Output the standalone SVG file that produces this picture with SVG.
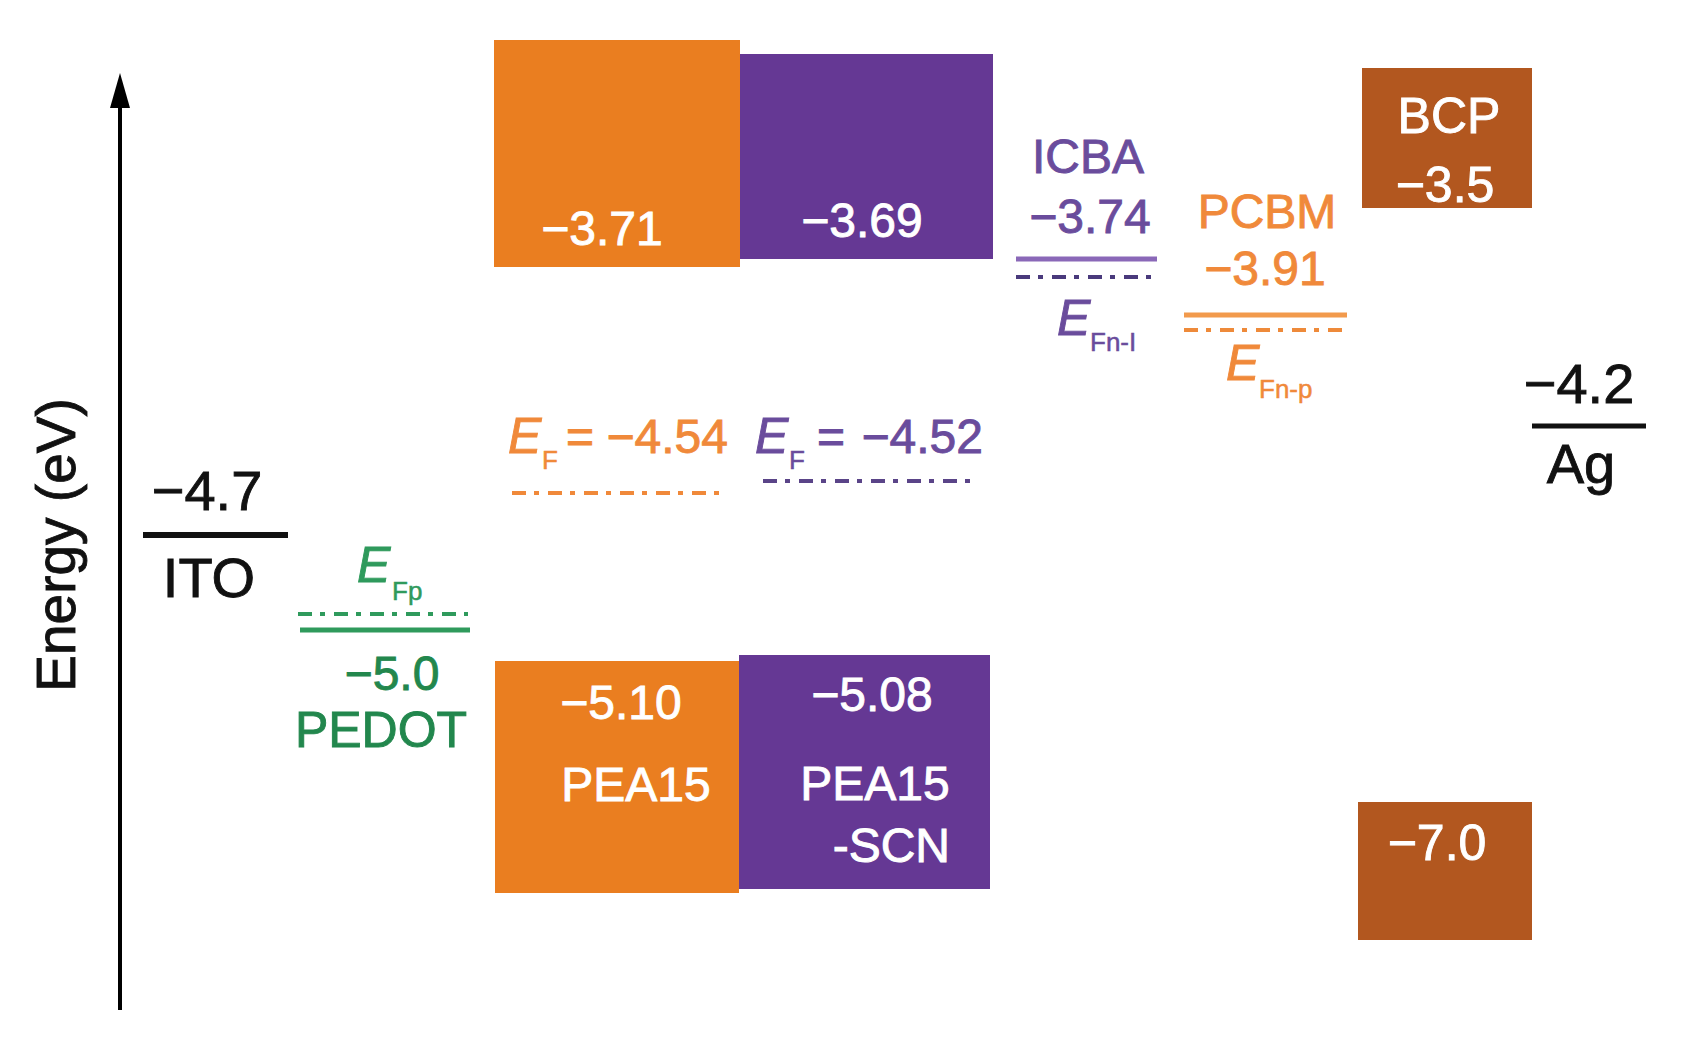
<svg xmlns="http://www.w3.org/2000/svg" width="1683" height="1045" viewBox="0 0 1683 1045">
<style>
text{font-family:"Liberation Sans",Arial,Helvetica,sans-serif;stroke-width:0.9px;}
.lbl{font-size:48px;text-anchor:middle;}
.big{font-size:56px;text-anchor:middle;fill:#111;stroke:#111;}
.w{fill:#fff;stroke:#fff;}
.it{font-style:italic;}
.sub{font-size:26px;stroke-width:0.5px;}
.dd{stroke-width:4;stroke-dasharray:14 8 5 9;fill:none;}
.sol{stroke-width:5;fill:none;}
.org{fill:#F0893A;stroke:#F0893A;}
.pur{fill:#6A4C9C;stroke:#6A4C9C;}
.grn{fill:#2F9A5C;stroke:#2F9A5C;}
.grn2{fill:#22874D;stroke:#22874D;}
.box-org{fill:#EA7E20;}
.box-pur{fill:#653894;}
.box-brn{fill:#B2571F;}
</style>
<rect width="1683" height="1045" fill="#fff"/>

<g id="connectors">
<line x1="120" y1="1010" x2="120" y2="106" stroke="#000" stroke-width="4"/>
<path d="M110,108 L120,73 L130,108 Z" fill="#000"/>
</g>

<g id="axis-label">
<text x="0" y="0" transform="translate(75,545) rotate(-90)" style="font-size:55px;text-anchor:middle;fill:#111;stroke:#111">Energy (eV)</text>
</g>

<g id="ITO">
<text class="big" x="207" y="510">−4.7</text>
<line x1="143" y1="535" x2="288" y2="535" stroke="#111" stroke-width="6"/>
<text class="big" x="209" y="597">ITO</text>
</g>

<g id="PEDOT">
<text class="it grn" x="357" y="582" style="font-size:50px">E</text>
<text class="sub grn" x="392" y="600">Fp</text>
<line class="dd" x1="298" y1="614" x2="468" y2="614" stroke="#2F9A5C"/>
<line class="sol" x1="300" y1="630" x2="470" y2="630" stroke="#2F9A5C"/>
<text class="lbl grn2" x="392" y="690">−5.0</text>
<text class="lbl grn2" x="381" y="747" style="font-size:50px">PEDOT</text>
</g>

<g id="PEA15">
<rect class="box-org" x="494" y="40" width="246" height="227"/>
<text class="lbl w" x="602" y="245">−3.71</text>
<rect class="box-org" x="495" y="661" width="244" height="232"/>
<text class="lbl w" x="621" y="719">−5.10</text>
<text class="lbl w" x="636" y="801">PEA15</text>
</g>

<g id="PEA15-SCN">
<rect class="box-pur" x="740" y="54" width="253" height="205"/>
<text class="lbl w" x="862" y="237">−3.69</text>
<rect class="box-pur" x="739" y="655" width="251" height="234"/>
<text class="lbl w" x="872" y="711">−5.08</text>
<text class="lbl w" x="875" y="800">PEA15</text>
<text class="lbl w" x="950" y="862" style="text-anchor:end">-SCN</text>
</g>

<g id="EF-PEA15">
<text class="it org" x="508" y="453" style="font-size:50px">E</text>
<text class="sub org" x="542" y="469">F</text>
<text class="org" x="566" y="453" style="font-size:48px">=</text>
<text class="org" x="728" y="453" style="font-size:48px;text-anchor:end">−4.54</text>
<line class="dd" x1="512" y1="493" x2="727" y2="493" stroke="#F0893A"/>
</g>

<g id="EF-PEA15-SCN">
<text class="it pur" x="755" y="453" style="font-size:50px">E</text>
<text class="sub pur" x="789" y="469">F</text>
<text class="pur" x="817" y="453" style="font-size:48px">=</text>
<text class="pur" x="983" y="453" style="font-size:48px;text-anchor:end">−4.52</text>
<line class="dd" x1="763" y1="481" x2="973" y2="481" stroke="#5A4488"/>
</g>

<g id="ICBA">
<text class="lbl pur" x="1088" y="173">ICBA</text>
<text class="lbl pur" x="1090" y="233">−3.74</text>
<line class="sol" x1="1016" y1="259" x2="1157" y2="259" stroke="#8A68B8"/>
<line class="dd" x1="1016" y1="277" x2="1157" y2="277" stroke="#4A3A7C"/>
<text class="it pur" x="1057" y="335" style="font-size:50px">E</text>
<text class="sub pur" x="1090" y="351">Fn-I</text>
</g>

<g id="PCBM">
<text class="lbl org" x="1267" y="228">PCBM</text>
<text class="lbl org" x="1265" y="285">−3.91</text>
<line class="sol" x1="1184" y1="315" x2="1347" y2="315" stroke="#F29A4C"/>
<line class="dd" x1="1184" y1="330" x2="1347" y2="330" stroke="#EE8A3A"/>
<text class="it org" x="1226" y="380" style="font-size:50px">E</text>
<text class="sub org" x="1259" y="398">Fn-p</text>
</g>

<g id="BCP">
<rect class="box-brn" x="1362" y="68" width="170" height="140"/>
<text class="lbl w" x="1449" y="133" style="font-size:50px">BCP</text>
<text class="lbl w" x="1445" y="202" style="font-size:50px">−3.5</text>
<rect class="box-brn" x="1358" y="802" width="174" height="138"/>
<text class="lbl w" x="1437" y="860" style="font-size:50px">−7.0</text>
</g>

<g id="Ag">
<text class="big" x="1579" y="403">−4.2</text>
<line x1="1532" y1="426" x2="1646" y2="426" stroke="#111" stroke-width="5"/>
<text class="big" x="1581" y="483">Ag</text>
</g>
</svg>
